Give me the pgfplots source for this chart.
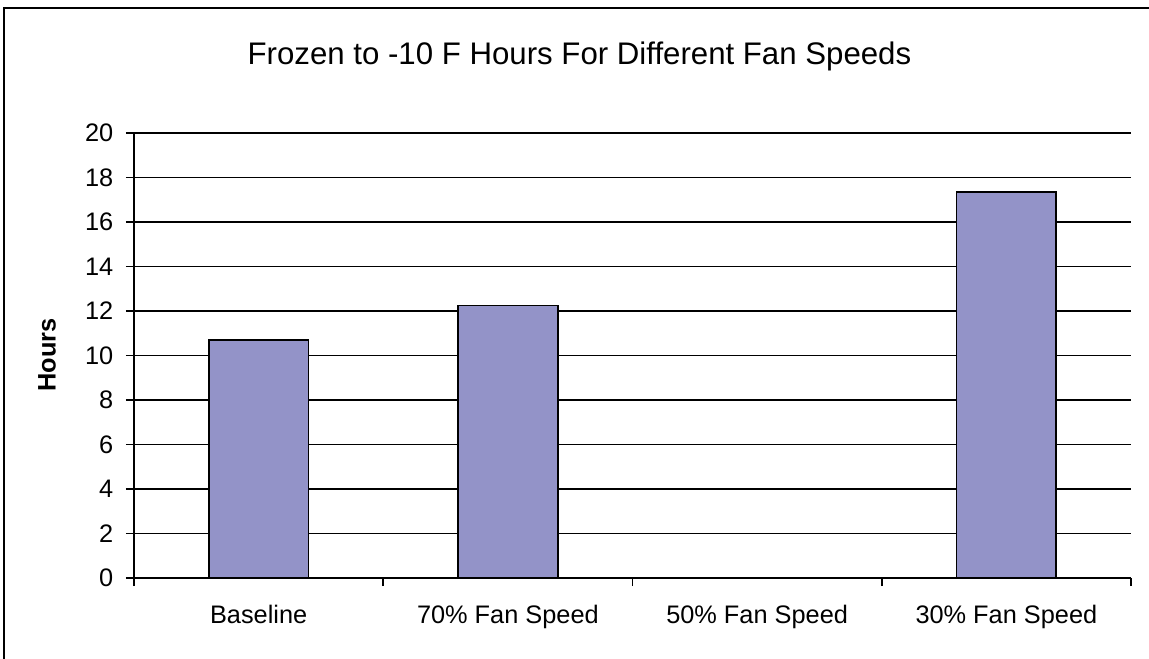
\documentclass[border=0pt]{standalone}
\usepackage{pgfplots}
\pgfplotsset{compat=1.18}
\usepackage{fontspec}
\setmainfont{Liberation Sans}
\definecolor{barfill}{RGB}{147,147,200}

\begin{document}
\begin{tikzpicture}
  % page area
  \useasboundingbox (0,0) rectangle (861.75pt,493.5pt);
  % chart-area frame (left and top edges)
  \draw[line width=1.1pt] (3pt,-10pt) -- (3pt,487.5pt) -- (870pt,487.5pt);

  \begin{axis}[
    at={(100.5pt,60pt)}, anchor=south west,
    scale only axis,
    width=747.75pt, height=333.75pt,
    xmin=-0.5, xmax=3.5,
    ymin=0, ymax=20,
    axis x line=bottom, axis y line=left,
    axis line style={line width=1.3pt, -},
    xtick={-0.5,0.5,1.5,2.5,3.5},
    x tick label as interval,
    xticklabels={Baseline, 70\% Fan Speed, 50\% Fan Speed, 30\% Fan Speed},
    ytick={0,2,...,20},
    tick align=outside,
    major tick length=6pt,
    tick style={line width=1.3pt, black},
    ymajorgrids,
    major grid style={line width=1.3pt, black},
    /pgf/number format/assume math mode=true,
    tick label style={font=\fontsize{19}{22}\selectfont},
    xticklabel style={yshift=-11pt},
    yticklabel style={xshift=-6pt},
    title={Frozen to -10 F Hours For Different Fan Speeds},
    title style={at={(rel axis cs:0.4468,1.155)}, anchor=center,
                 font=\fontsize{23.4}{27}\selectfont},
    ylabel={Hours},
    ylabel style={at={(rel axis cs:-0.0873,0.501)}, anchor=center,
                  font=\fontsize{19}{22}\selectfont\bfseries},
    ybar, bar width=0.4,
  ]
    \addplot[fill=barfill, draw=black, line width=1.3pt]
      coordinates {(0,10.7) (1,12.25) (3,17.35)};
  \end{axis}
\end{tikzpicture}
\end{document}
